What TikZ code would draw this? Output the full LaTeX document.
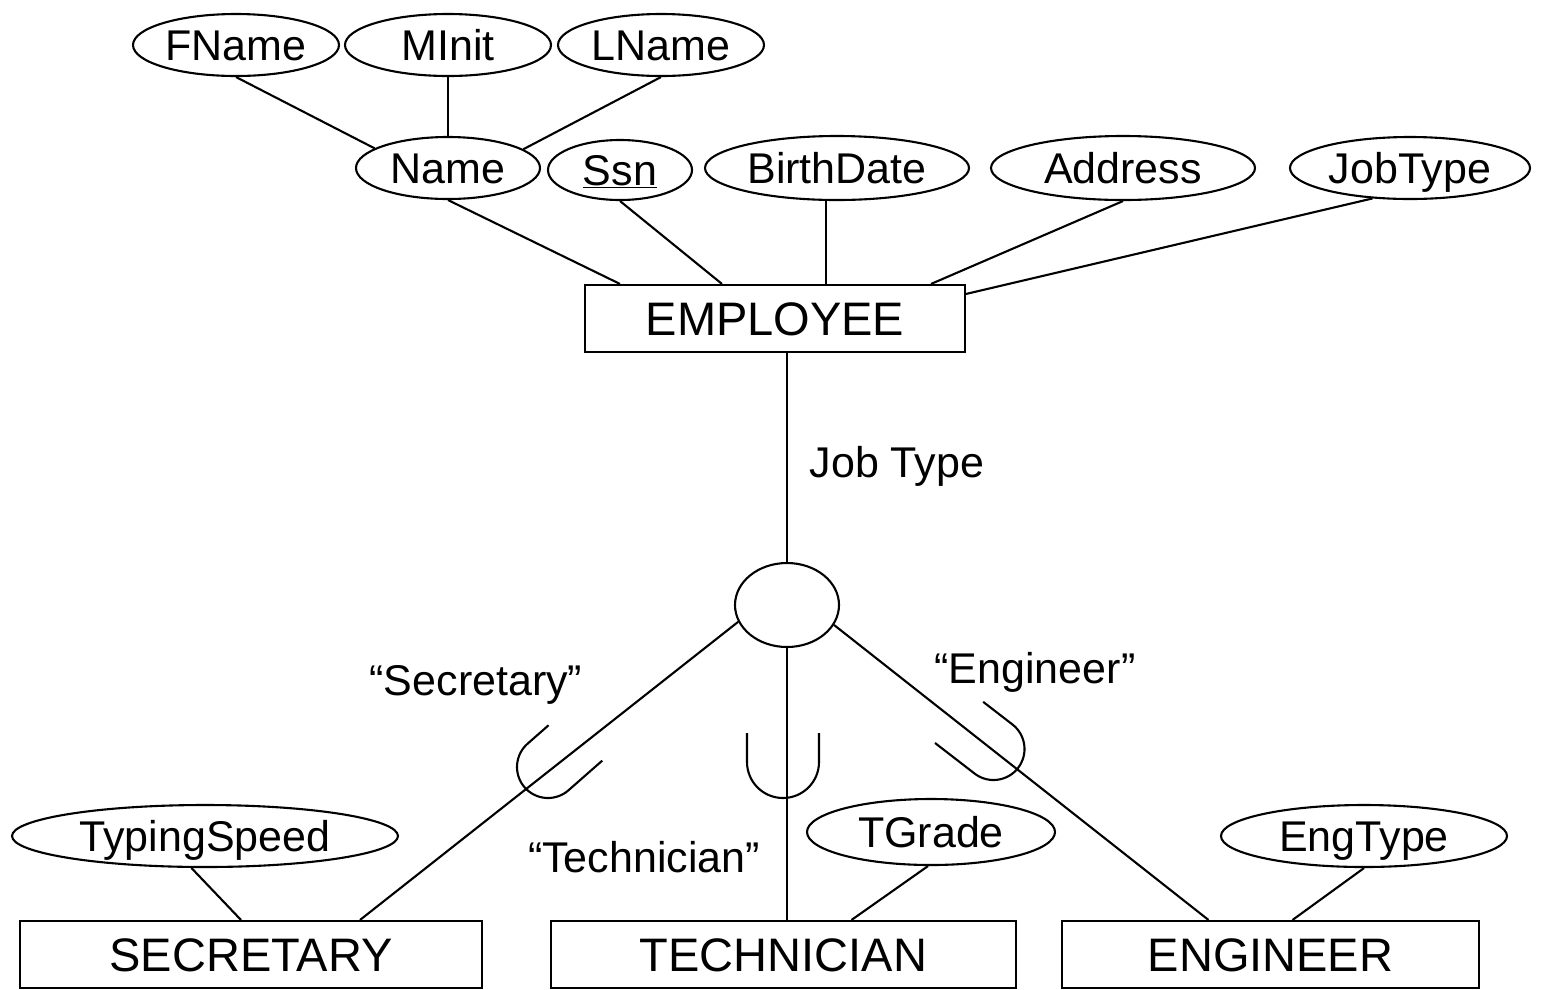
\documentclass[tikz,border=0pt]{standalone}
\usepackage{fontspec}
\setmainfont{Liberation Sans}
\usetikzlibrary{shapes.geometric}
\begin{document}
\begin{tikzpicture}[x=1pt,y=-1pt,line width=2.1pt,
 attr/.style={draw,ellipse,inner sep=0pt,text height=31pt,text depth=0pt,font=\fontsize{43}{48}\selectfont},
 ent/.style={draw,rectangle,inner sep=0pt,minimum height=67pt,text height=34pt,text depth=0pt,font=\fontsize{47}{52}\selectfont},
 lbl/.style={inner sep=0pt,text height=31pt,text depth=0pt,font=\fontsize{43}{48}\selectfont},
 ushape/.style={line width=2.1pt}]
\useasboundingbox (0,0) rectangle (1544,989);

% attributes
\node[attr,minimum width=206pt,minimum height=62pt] (fname) at (236,45) {FName};
\node[attr,minimum width=206pt,minimum height=62pt] (minit) at (448,45) {MInit};
\node[attr,minimum width=206pt,minimum height=62pt] (lname) at (661,45) {LName};
\node[attr,minimum width=184pt,minimum height=62pt] (name) at (448,168) {Name};
\node[attr,minimum width=144pt,minimum height=60pt] (ssn) at (620,170) {\underline{Ssn}};
\node[attr,minimum width=264pt,minimum height=64pt] (birth) at (837,168) {BirthDate};
\node[attr,minimum width=264pt,minimum height=64pt] (addr) at (1123,168) {Address};
\node[attr,minimum width=240pt,minimum height=62pt] (jobt) at (1410,168) {JobType};
\node[attr,minimum width=386pt,minimum height=62pt] (typ) at (205,836) {TypingSpeed};
\node[attr,minimum width=248pt,minimum height=66pt] (tgrade) at (931,832) {TGrade};
\node[attr,minimum width=286pt,minimum height=62pt] (engtype) at (1364,836) {EngType};

% entities
\node[ent,minimum width=380pt] (emp) at (775,318.5) {EMPLOYEE};
\node[ent,minimum width=462pt] (sec) at (251,954.5) {SECRETARY};
\node[ent,minimum width=465pt] (tech) at (783.5,954.5) {TECHNICIAN};
\node[ent,minimum width=417pt] (eng) at (1270.5,954.5) {ENGINEER};

% specialization circle
\node[draw,ellipse,inner sep=0pt,minimum width=104pt,minimum height=84pt] (circ) at (787,605) {};

% labels
\node[lbl] (jtl) at (897,462) {Job Type};
\node[lbl] (secl) at (476,680) {“Secretary”};
\node[lbl] (engl) at (1035,668) {“Engineer”};
\node[lbl] (techl) at (644,857) {“Technician”};

% connectors
\draw (fname.south) -- (name.165);
\draw (minit.south) -- (name.north);
\draw (lname.south) -- (name.14);
\draw (name.south) -- ([xshift=-155pt]emp.north);
\draw (ssn.south) -- ([xshift=-53pt]emp.north);
\draw ([xshift=-11pt]birth.south) -- ([xshift=-11pt]birth.south |- emp.north);
\draw (addr.south) -- ([xshift=156pt]emp.north);
\draw (jobt.219) -- ([yshift=-10pt]emp.north east);
\draw (circ.north) -- (circ.north |- emp.south);
\draw (circ.199) -- ([xshift=109pt]sec.north);
\draw (circ.south) -- (circ.south |- tech.north);
\draw (circ.-23) -- ([xshift=-62pt]eng.north);
\draw (typ.-113) -- ([xshift=-10pt]sec.north);
\draw (tgrade.-95) -- ([xshift=68pt]tech.north);
\draw (engtype.south) -- ([xshift=22pt]eng.north);

% subset symbols
\begin{scope}[shift={(783,762)}]
 \draw[ushape] (-36,-29) -- (-36,0) arc[start angle=180,end angle=0,radius=36] -- (36,-29);
\end{scope}
\begin{scope}[shift={(548,767)},rotate=-48.7]
 \draw[ushape] (-31,-28) -- (-31,0) arc[start angle=180,end angle=0,radius=31] -- (31,-45);
\end{scope}
\begin{scope}[shift={(993.5,749)},rotate=52.3]
 \draw[ushape] (-31,-50) -- (-31,0) arc[start angle=180,end angle=0,radius=31] -- (31,-37);
\end{scope}
\end{tikzpicture}
\end{document}
